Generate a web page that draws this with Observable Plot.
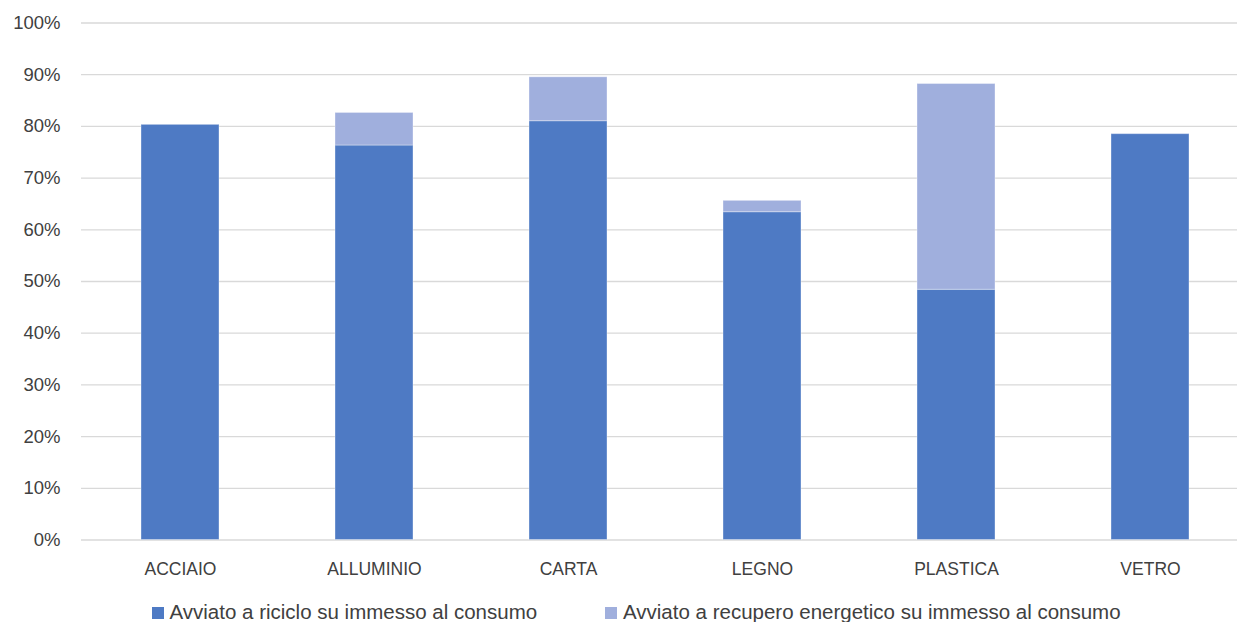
<!DOCTYPE html>
<html>
<head>
<meta charset="utf-8">
<script src="https://cdn.jsdelivr.net/npm/d3@7"></script>
<script src="https://cdn.jsdelivr.net/npm/@observablehq/plot@0.6"></script>
<style>
  body { margin: 0; background: #fff; font-family: "Liberation Sans", Arial, sans-serif; }
  #wrap { position: relative; width: 1237px; height: 622px; overflow: hidden; }
  .leg { position: absolute; top: 599px; height: 26px; line-height: 26px; font-size: 20.5px; color: #404040; white-space: nowrap; display: flex; align-items: center; }
  .sw { display: inline-block; width: 12px; height: 12px; margin-right: 6px; margin-top: 2px; }
</style>
</head>
<body>
<div id="wrap"></div>
<script>
const categories = ["ACCIAIO", "ALLUMINIO", "CARTA", "LEGNO", "PLASTICA", "VETRO"];
const riciclo = [80.3, 76.3, 81.0, 63.4, 48.4, 78.5];
const recupero = [0, 6.3, 8.5, 2.2, 39.8, 0];
const seriesNames = ["Avviato a riciclo su immesso al consumo", "Avviato a recupero energetico su immesso al consumo"];
const seriesColors = ["#4e7ac4", "#a0afdd"];
const yTicks = [0, 10, 20, 30, 40, 50, 60, 70, 80, 90, 100];

const rows = [];
categories.forEach((c, i) => {
  rows.push({cat: c, serie: seriesNames[0], value: riciclo[i]});
  rows.push({cat: c, serie: seriesNames[1], value: recupero[i]});
});

const H = 596;
const chart = Plot.plot({
  width: 1237,
  height: H,
  marginTop: 22.5,
  marginBottom: H - 539.5,
  marginLeft: 81,
  marginRight: 0,
  style: { fontFamily: "Liberation Sans, Arial, sans-serif", color: "#404040", background: "#fff" },
  x: { type: "band", domain: categories, range: [81.15, 1249.35], paddingInner: 0.6, paddingOuter: 0.3, label: null },
  y: { domain: [0, 100], label: null },
  color: { domain: seriesNames, range: seriesColors },
  marks: [
    Plot.ruleY(yTicks, { stroke: "#d9d9d9", strokeWidth: 1.3 }),
    Plot.barY(rows, { x: "cat", y: "value", fill: "serie", order: seriesNames, stroke: "#ffffff", strokeOpacity: 0.35, strokeWidth: 1 }),
    Plot.axisY({ ticks: yTicks, tickFormat: d => d + "%", tickSize: 0, tickPadding: 21, fontSize: 18.5, fill: "#404040" }),
    Plot.axisX({ tickSize: 0, tickPadding: 22.5, fontSize: 17.5, fill: "#404040" })
  ]
});
const wrap = document.getElementById("wrap");
wrap.appendChild(chart);

const legendLeft = [151.5, 605];
seriesNames.forEach((name, i) => {
  const d = document.createElement("div");
  d.className = "leg";
  d.style.left = legendLeft[i] + "px";
  const sw = document.createElement("span");
  sw.className = "sw";
  sw.style.background = seriesColors[i];
  d.appendChild(sw);
  d.appendChild(document.createTextNode(name));
  wrap.appendChild(d);
});
</script>
</body>
</html>
